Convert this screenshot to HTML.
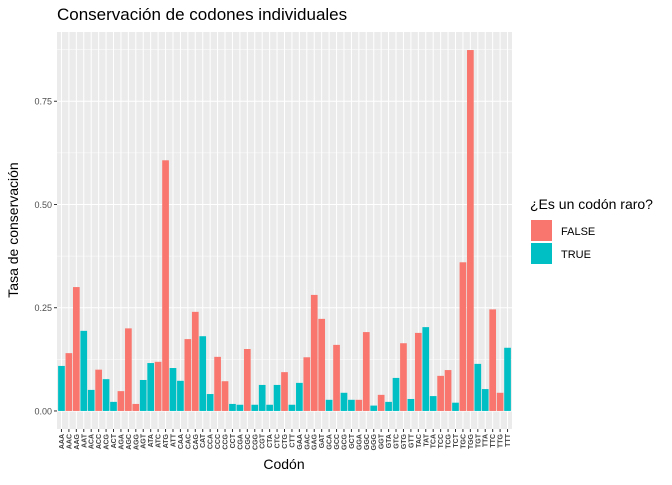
<!DOCTYPE html>
<html><head><meta charset="utf-8"><style>body{margin:0;background:#fff}svg text{font-family:"Liberation Sans",sans-serif}</style></head>
<body>
<svg id="chart" width="672" height="480" viewBox="0 0 672 480" xmlns="http://www.w3.org/2000/svg">
<rect width="672" height="480" fill="#fff"/>
<text x="57" y="20" font-size="17" fill="#000">Conservación de codones individuales</text>
<rect x="57" y="32" width="455" height="397" fill="#ebebeb"/>
<g id="grid"></g><g id="bars"></g><g id="xaxis"></g><g id="yaxis"></g>
<text x="284" y="469" font-size="14" text-anchor="middle">Codón</text>
<text transform="translate(18,230) rotate(-90)" font-size="14" text-anchor="middle">Tasa de conservación</text>
<g>
<text x="530" y="209" font-size="14">¿Es un codón raro?</text>
<rect x="531" y="220" width="21" height="21" fill="#f8766d"/>
<text x="561" y="235" font-size="11">FALSE</text>
<rect x="531" y="243" width="21" height="21" fill="#00bfc4"/>
<text x="561" y="258" font-size="11">TRUE</text>
</g>
</svg>
<script>
const codons=["AAA","AAC","AAG","AAT","ACA","ACC","ACG","ACT","AGA","AGC","AGG","AGT","ATA","ATC","ATG","ATT","CAA","CAC","CAG","CAT","CCA","CCC","CCG","CCT","CGA","CGC","CGG","CGT","CTA","CTC","CTG","CTT","GAA","GAC","GAG","GAT","GCA","GCC","GCG","GCT","GGA","GGC","GGG","GGT","GTA","GTC","GTG","GTT","TAC","TAT","TCA","TCC","TCG","TCT","TGC","TGG","TGT","TTA","TTC","TTG","TTT"];
const rates=[0.109,0.14,0.30,0.194,0.051,0.10,0.077,0.022,0.048,0.20,0.017,0.075,0.116,0.119,0.607,0.104,0.073,0.174,0.24,0.181,0.041,0.131,0.072,0.017,0.015,0.15,0.015,0.063,0.015,0.063,0.094,0.015,0.068,0.13,0.281,0.223,0.027,0.16,0.044,0.027,0.027,0.191,0.013,0.039,0.022,0.08,0.164,0.029,0.189,0.203,0.036,0.085,0.099,0.02,0.36,0.874,0.114,0.053,0.246,0.044,0.153];
const rare=[1,0,0,1,1,0,1,1,0,0,0,1,1,0,0,1,1,0,0,1,1,0,0,1,1,0,1,1,1,1,0,1,1,0,0,0,1,0,1,1,0,0,1,0,1,1,0,1,0,1,1,0,0,1,0,0,1,1,0,0,1];
const yTicks=[0,0.25,0.5,0.75];
const yTickLabels=["0.00","0.25","0.50","0.75"];
const NS="http://www.w3.org/2000/svg";
const L=57,R=512,T=32,B=429;
const n=codons.length;
const maxV=Math.max(...rates),yMin=-maxV*0.05,yMax=maxV*1.05;
const y=v=>B-(v-yMin)/(yMax-yMin)*(B-T);
const step=(R-L)/(n-1+1.2);
const x=i=>L+(i+0.6)*step;
function mk(tag,attrs,parent){const e=document.createElementNS(NS,tag);for(const k in attrs)e.setAttribute(k,attrs[k]);document.getElementById(parent).appendChild(e);return e;}
for(let k=0;k<yTicks.length;k++){
  const mv=yTicks[k]+0.125;
  if(y(mv)>T){const m=mk("line",{x1:L,x2:R,y1:y(mv),y2:y(mv),stroke:"#fff","stroke-width":0.5},"grid");
  
  }
  const g=mk("line",{x1:L,x2:R,y1:y(yTicks[k]),y2:y(yTicks[k]),stroke:"#fff","stroke-width":1},"grid");
  
  
  const t=mk("line",{x1:L-3,x2:L,y1:y(yTicks[k]),y2:y(yTicks[k]),stroke:"#333"},"yaxis");
  
  
  const lb=mk("text",{x:L-5,y:y(yTicks[k])+3.5,"font-size":9,"text-anchor":"end",fill:"#4d4d4d"},"yaxis");
  lb.textContent=yTickLabels[k];
  
  
}
for(let i=0;i<n;i++){
  const g=mk("line",{x1:x(i),x2:x(i),y1:T,y2:B,stroke:"#fff","stroke-width":1},"grid");
  
  
}
const bw=step*0.9;
for(let i=0;i<n;i++){
  const b=mk("rect",{x:x(i)-bw/2,y:y(rates[i]),width:bw,height:y(0)-y(rates[i]),fill:rare[i]?"#00bfc4":"#f8766d"},"bars");
  
  
  const t=mk("line",{x1:x(i),x2:x(i),y1:B,y2:B+3,stroke:"#333"},"xaxis");
  
  
  const lb=mk("text",{transform:`translate(${x(i)+2.5},${B+5}) rotate(-90)`,"font-size":7,"font-weight":"bold","text-anchor":"end",fill:"#444"},"xaxis");
  lb.textContent=codons[i];
  
  
}
</script>
</body></html>
